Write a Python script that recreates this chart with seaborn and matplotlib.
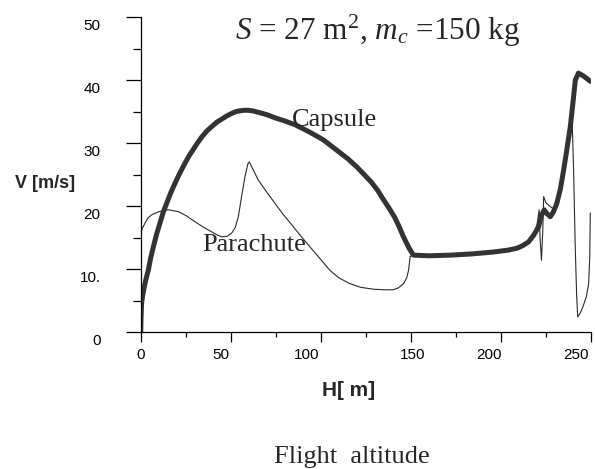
import numpy as np
import pandas as pd
import seaborn as sns
from matplotlib import pyplot as plt
from matplotlib import transforms
from matplotlib.ticker import MultipleLocator

# capsule velocity vs flight altitude
cap_h = [0, 0.2, 0.5, 1.2, 2, 3, 4.2, 5.5, 7, 8.8, 10.7, 12.5, 14.5, 16.7, 19, 21.5,
         24, 26.5, 29, 31.5, 34, 36.7, 39.4, 42.2, 45, 47.8, 50.5, 53, 55, 57.3,
         59.6, 62.3, 65, 70, 74.6, 80, 85.7, 92, 96.5, 101.4, 105.5, 110, 115,
         120, 124, 128, 131.5, 134.8, 138, 141, 143.5, 145.9, 149, 151.4, 160,
         171.8, 184, 195.9, 204, 208.9, 212, 215.3, 218, 220.9, 222.5, 224, 225.5,
         227.4, 229, 231, 233, 234.8, 236.5, 238.5, 240, 241.3, 243, 246, 248.7,
         249.5]
cap_v = [0, 2.5, 4.6, 6.0, 7.2, 8.5, 9.8, 11.7, 13.5, 15.5, 17.3, 19.0, 20.5, 22.1,
         23.6, 25.1, 26.5, 27.8, 28.9, 30.0, 31.0, 31.9, 32.6, 33.3, 33.8, 34.3,
         34.7, 35.0, 35.1, 35.2, 35.2, 35.1, 34.9, 34.5, 34.0, 33.5, 32.9, 32.0,
         31.3, 30.5, 29.6, 28.6, 27.5, 26.2, 25.0, 23.8, 22.5, 21.0, 19.6, 18.2,
         16.7, 15.1, 13.3, 12.2, 12.1, 12.2, 12.4, 12.7, 13.0, 13.3, 13.7, 14.3,
         15.3, 16.7, 18.5, 19.4, 18.8, 18.3, 19.0, 20.4, 22.7, 25.7, 28.8, 32.6,
         36.5, 40.0, 41.1, 40.6, 40.0, 39.8]

# parachute velocity vs flight altitude
par_h = [0, 1, 2.4, 4, 6.1, 10, 15.3, 20.9, 25, 30.2, 35, 39.4, 42.5, 45, 48, 50.5,
         52.5, 54.2, 56, 57.9, 59.5, 60.3, 62, 65.3, 70, 74.6, 79, 83.9, 89, 94,
         100, 105, 110, 116, 122, 129, 135, 140, 143, 146, 147.7, 148.7, 149.6,
         151.4, 160, 171.8, 184, 195.9, 204, 208.9, 212, 215.3, 218, 220, 221.2,
         221.7, 222.5, 223.2, 223.7, 225, 227.4, 229, 231, 233, 234.8, 236.5,
         238.5, 239.4, 240.3, 241.2, 242, 242.6, 244, 245.5, 247.4, 248.7, 249.3,
         249.6]
par_v = [15.7, 16.5, 17.3, 18.1, 18.6, 19.1, 19.4, 19.1, 18.5, 17.5, 16.6, 15.9,
         15.4, 15.1, 15.2, 15.7, 16.6, 18.3, 21.5, 24.7, 26.7, 27.0, 26.0, 24.1,
         22.2, 20.4, 18.7, 17.0, 15.2, 13.5, 11.5, 9.8, 8.6, 7.7, 7.1, 6.8, 6.7,
         6.7, 7.0, 7.7, 8.6, 9.8, 12.0, 12.2, 12.1, 12.2, 12.4, 12.7, 13.0, 13.3,
         13.7, 14.3, 15.3, 17.0, 19.4, 15.0, 11.4, 16.0, 21.5, 20.5, 19.9, 19.6,
         20.4, 22.7, 25.7, 28.8, 32.6, 34.7, 26.0, 14.0, 6.0, 2.4, 3.0, 4.0, 5.6,
         7.7, 12.0, 18.9]

x_ticks = [0, 50, 100, 150, 200, 250]
y_ticks = [0, 10, 20, 30, 40, 50]
y_tick_labels = ['0', '10.', '20', '30', '40', '50']

cap = pd.DataFrame({'H': cap_h, 'V': cap_v})
par = pd.DataFrame({'H': par_h, 'V': par_v})

sns.set_style('ticks')
plt.rcParams['font.family'] = ['Liberation Sans', 'DejaVu Sans']
plt.rcParams['mathtext.fontset'] = 'custom'
plt.rcParams['mathtext.rm'] = 'Liberation Serif'
plt.rcParams['mathtext.it'] = 'Liberation Serif:italic'

fig = plt.figure(figsize=(5.95, 4.69), dpi=100)
ax = fig.add_axes([0.2365, 0.2921, 0.7568, 0.6716])

sns.lineplot(data=par, x='H', y='V', sort=False, estimator=None, ax=ax,
             color='#2a2a2a', linewidth=0.8)
sns.lineplot(data=cap, x='H', y='V', sort=False, estimator=None, ax=ax,
             color='#333333', linewidth=3.6)

ax.set_xlim(0, 250)
ax.set_ylim(0, 50)
ax.set_xticks(x_ticks)
ax.set_yticks(y_ticks, labels=y_tick_labels)
ax.xaxis.set_minor_locator(MultipleLocator(25))
ax.yaxis.set_minor_locator(MultipleLocator(5))
ax.set_xlabel('')
ax.set_ylabel('')

for s in ['top', 'right']:
    ax.spines[s].set_visible(False)
for s in ['left', 'bottom']:
    ax.spines[s].set_color('black')
    ax.spines[s].set_linewidth(0.9)

ax.tick_params(axis='y', which='major', direction='out', length=10.8, width=0.9,
               pad=18, labelsize=11, colors='black')
ax.tick_params(axis='y', which='minor', direction='out', length=5.8, width=0.9,
               colors='black')
ax.tick_params(axis='x', which='major', direction='out', length=7.2, width=0.9,
               pad=4, labelsize=11, colors='black')
ax.tick_params(axis='x', which='minor', direction='out', length=3.6, width=0.9,
               colors='black')

# y tick labels sit a little below their ticks in the original
shift = transforms.ScaledTranslation(0, -7 / 100, fig.dpi_scale_trans)
for lab in ax.get_yticklabels():
    lab.set_transform(lab.get_transform() + shift)

# x tick labels are nudged left of their ticks in the original (pixels)
x_nudge = [0, -10, -14, 2, -12, -15]
for lab, dx in zip(ax.get_xticklabels(), x_nudge):
    off = transforms.ScaledTranslation(dx / 100, 0, fig.dpi_scale_trans)
    lab.set_transform(lab.get_transform() + off)

serif = ['Liberation Serif', 'DejaVu Serif']
ax.text(52.4, 46.3, r'$S$ = 27 m$^2$, $m_c$ =150 kg', family=serif, fontsize=22.5,
        va='baseline', ha='left', clip_on=False)
ax.text(84, 32.7, 'Capsule', family=serif, fontsize=19, va='baseline', ha='left')
ax.text(34, 12.9, 'Parachute', family=serif, fontsize=19, va='baseline', ha='left')

fig.text(45 / 595, 1 - 183 / 469, 'V [m/s]', fontsize=13, fontweight='bold',
         ha='center', va='center')
fig.text(349 / 595, 1 - 390 / 469, 'H[ m]', fontsize=15, fontweight='bold',
         ha='center', va='center')
fig.text(352 / 595, 1 - 463 / 469, 'Flight  altitude', family=serif, fontsize=19,
         ha='center', va='baseline')

fig.savefig('out.png', dpi=100)
